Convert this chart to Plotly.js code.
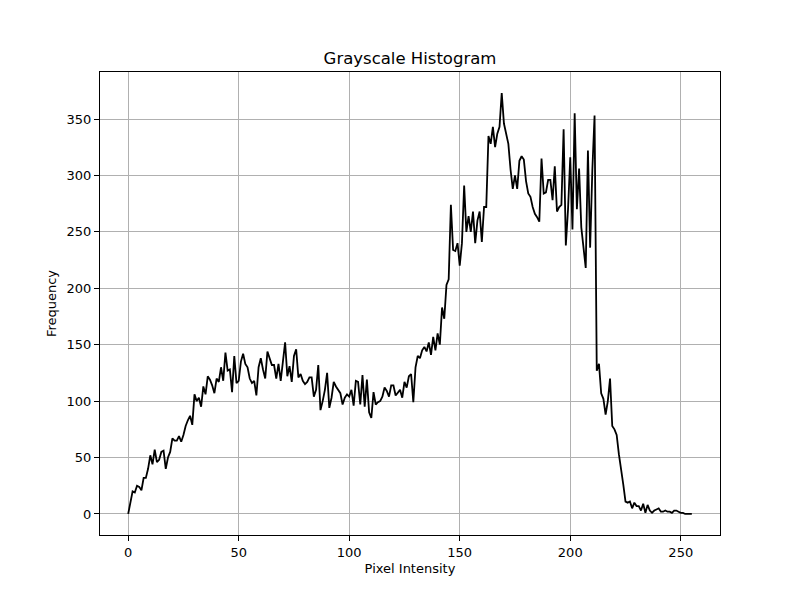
<!DOCTYPE html>
<html>
<head>
<meta charset="utf-8">
<script src="https://cdn.plot.ly/plotly-3.0.1.min.js"></script>
<style>
  body { margin: 0; background: #fff; }
  #plot { width: 800px; height: 600px; }
</style>
</head>
<body>
<div id="plot"></div>
<script>
// Histogram counts per gray level (0..255)
var frequency = [
  0, 12, 20, 19, 25, 24, 21, 32, 32, 40,
  52, 44, 57, 46, 48, 55, 56, 40, 50, 55,
  67, 65, 65, 69, 64, 70, 78, 83, 87, 79,
  106, 100, 103, 95, 113, 106, 122, 119, 114, 107,
  120, 117, 130, 118, 143, 127, 128, 108, 140, 116,
  118, 135, 142, 133, 130, 120, 116, 118, 105, 130,
  138, 128, 120, 144, 137, 132, 132, 120, 133, 118,
  135, 152, 122, 131, 117, 140, 146, 121, 124, 118,
  115, 117, 121, 121, 104, 110, 132, 92, 100, 110,
  125, 94, 103, 117, 113, 110, 107, 97, 103, 106,
  104, 110, 96, 118, 117, 97, 123, 95, 119, 90,
  85, 108, 97, 99, 100, 104, 112, 109, 104, 114,
  114, 105, 108, 110, 103, 117, 112, 122, 124, 99,
  130, 140, 138, 145, 148, 144, 152, 141, 157, 145,
  160, 150, 183, 173, 203, 208, 274, 234, 233, 240,
  220, 240, 291, 250, 264, 250, 268, 240, 260, 268,
  241, 272, 272, 335, 328, 343, 325, 337, 343, 373,
  346, 336, 328, 305, 288, 300, 288, 313, 317, 314,
  295, 284, 281, 272, 266, 263, 259, 315, 284, 285,
  296, 296, 278, 308, 268, 272, 274, 341, 238, 270,
  316, 252, 355, 270, 306, 254, 235, 218, 322, 236,
  305, 353, 127, 133, 107, 102, 88, 100, 120, 78,
  75, 70, 53, 37, 26, 11, 10, 11, 5, 10,
  7, 7, 3, 9, 1, 8, 3, 1, 3, 4,
  5, 2, 2, 3, 2, 2, 1, 3, 3, 2,
  1, 1, 0, 0, 0, 0
];
var intensity = [];
for (var i = 0; i < frequency.length; i++) {
  intensity.push(i);
}
var xTicks = [0, 50, 100, 150, 200, 250];
var yTicks = [0, 50, 100, 150, 200, 250, 300, 350];

var histLine = {
  x: intensity,
  y: frequency,
  type: 'scatter',
  mode: 'lines',
  line: { color: 'black', width: 1.8 },
  hoverinfo: 'x+y'
};

var font = { family: 'DejaVu Sans, sans-serif', size: 13, color: 'black' };

var layout = {
  width: 800,
  height: 600,
  margin: { l: 100, r: 80, t: 72, b: 65 },
  paper_bgcolor: 'white',
  plot_bgcolor: 'white',
  font: font,
  showlegend: false,
  title: {
    text: 'Grayscale Histogram',
    font: { family: 'DejaVu Sans, sans-serif', size: 16.5, color: 'black' },
    x: 0.5125,
    xanchor: 'center',
    y: 0.893,
    yanchor: 'bottom'
  },
  xaxis: {
    title: { text: 'Pixel Intensity', font: font, standoff: 5 },
    range: [-12.75, 267.75],
    tickvals: xTicks,
    ticks: 'outside',
    ticklen: 5,
    tickcolor: 'black',
    showgrid: true,
    gridcolor: '#b0b0b0',
    gridwidth: 1,
    zeroline: false,
    showline: true,
    linecolor: 'black',
    linewidth: 1,
    mirror: true
  },
  yaxis: {
    title: { text: 'Frequency', font: font, standoff: 7 },
    range: [-18.65, 391.65],
    tickvals: yTicks,
    ticks: 'outside',
    ticklen: 5,
    tickcolor: 'black',
    showgrid: true,
    gridcolor: '#b0b0b0',
    gridwidth: 1,
    zeroline: false,
    showline: true,
    linecolor: 'black',
    linewidth: 1,
    mirror: true
  }
};

Plotly.newPlot('plot', [histLine], layout, { staticPlot: true });
</script>
</body>
</html>
